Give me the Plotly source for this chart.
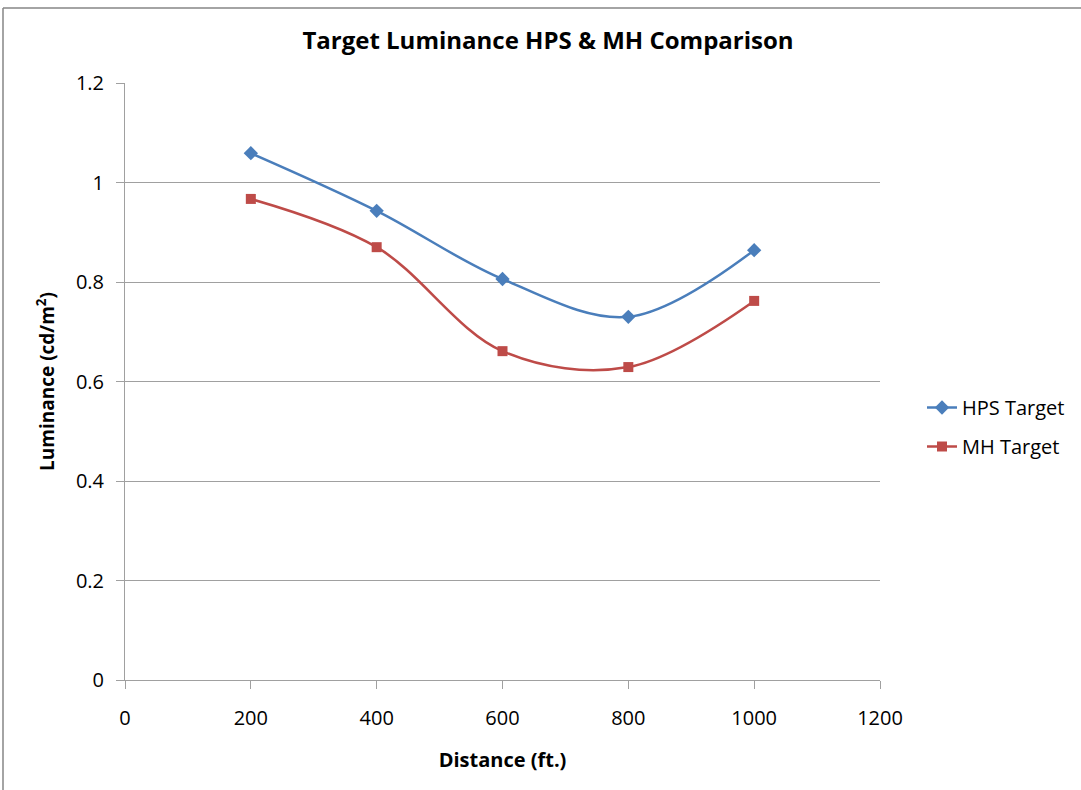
import plotly.graph_objects as go

distance = [200, 400, 600, 800, 1000]
hps_target = [1.059, 0.943, 0.806, 0.730, 0.864]
mh_target = [0.967, 0.870, 0.661, 0.629, 0.762]

W, H = 1081, 790
L, R, T, B = 125, 201, 83, 110
pw, ph = W - L - R, H - T - B

fig = go.Figure()
fig.add_trace(go.Scatter(
    x=distance, y=hps_target, name="HPS Target", mode="lines+markers",
    legendgroup="hps",
    line=dict(color="#4A7EBB", width=2.5, shape="spline", smoothing=1.0),
    marker=dict(symbol="diamond", size=11, color="#4A7EBB")))
fig.add_trace(go.Scatter(
    x=distance, y=mh_target, name="MH Target", mode="lines+markers",
    legendgroup="mh",
    line=dict(color="#BE4B48", width=2.5, shape="spline", smoothing=1.0),
    marker=dict(symbol="square", size=10, color="#BE4B48")))

font_family = "Open Sans, Liberation Sans, sans-serif"

def px_x(p):
    return (p - L) / pw

def px_y(p):
    return 1 - (p - T) / ph

fig.update_layout(
    width=W, height=H, autosize=False,
    margin=dict(l=L, r=R, t=T, b=B, autoexpand=False),
    paper_bgcolor="white", plot_bgcolor="white",
    font=dict(family=font_family, color="black"),
    title=dict(text="<b>Target Luminance HPS &amp; MH Comparison</b>",
               x=548 / W, xanchor="center", y=1 - 41 / H, yanchor="middle",
               font=dict(size=24, family=font_family)),
    xaxis=dict(range=[0, 1200], dtick=200, showgrid=False,
               showline=True, linecolor="#A0A0A0", linewidth=1,
               ticks="outside", ticklen=8, tickcolor="#A0A0A0",
               tickfont=dict(size=20), zeroline=False, ticklabelstandoff=12,
               title=dict(text="<b>Distance (ft.)</b>", font=dict(size=20), standoff=22)),
    yaxis=dict(range=[0, 1.2], dtick=0.2, showgrid=True, gridcolor="#A0A0A0",
               gridwidth=1, showline=True, linecolor="#A0A0A0", linewidth=1,
               ticks="outside", ticklen=8, tickcolor="#A0A0A0",
               tickfont=dict(size=20), zeroline=False, ticklabelstandoff=8,
               tickformat="~g",
               title=dict(text="<b>Luminance (cd/m<sup>2</sup>)</b>", font=dict(size=19), standoff=16)),
    legend=dict(xref="container", yref="container",
                x=922 / W, y=1 - 388 / H, xanchor="left", yanchor="top",
                font=dict(size=20), tracegroupgap=10, itemwidth=30,
                bgcolor="rgba(0,0,0,0)"),
    shapes=[
        dict(type="line", xref="paper", yref="paper",
             x0=px_x(3), x1=px_x(3), y0=px_y(8), y1=px_y(800),
             line=dict(color="#868686", width=1.5)),
        dict(type="line", xref="paper", yref="paper",
             x0=px_x(3), x1=px_x(1090), y0=px_y(8), y1=px_y(8),
             line=dict(color="#868686", width=1.5)),
    ],
)

fig.write_html("out.html", config={"responsive": False, "displayModeBar": False},
               post_script="document.body.style.margin='0';document.body.style.overflow='hidden';")
